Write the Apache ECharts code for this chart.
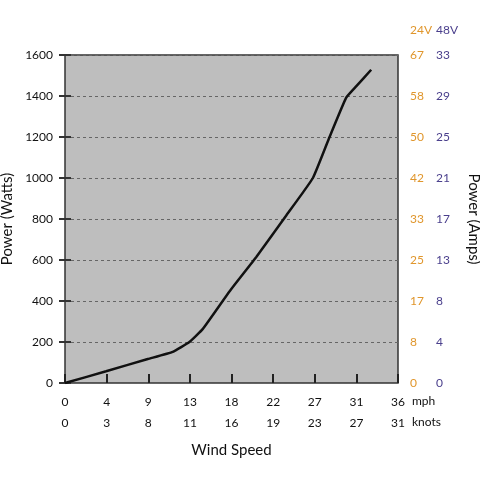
<!DOCTYPE html><html><head><meta charset="utf-8"><script src="https://cdn.jsdelivr.net/npm/echarts@6/dist/echarts.min.js"></script>
<style>html,body{margin:0;background:#fff}#c{width:480px;height:480px}</style></head><body><div id="c"></div><script>
const mph=[0,4.44,8.95,11.65,13.45,14.9,17.8,20.7,23.9,26.8,28.6,30.4,31.5,33.1];
const watts=[0,57,117,152,200,264,448,616,816,1000,1200,1392,1448,1528];
const mphLabels=['0','4','9','13','18','22','27','31','36'];
const knotLabels=['0','3','8','11','16','19','23','27','31'];
const amps24=['0','8','17','25','33','42','50','58','67'];
const amps48=['0','4','8','13','17','21','25','29','33'];
const F='Lato';
const ch=echarts.init(document.getElementById('c'));
const lab=(arr,step)=>v=>{const i=Math.round(v/step);return arr[i]!==undefined?arr[i]:'';};
ch.setOption({
 textStyle:{fontFamily:F},
 grid:{left:65,right:82,top:55,bottom:97,outerBoundsMode:'none',containLabel:false,show:true,backgroundColor:'#bebebe',borderColor:'#333',borderWidth:1.5},
 xAxis:[
  {type:'value',min:0,max:36,interval:4.5,position:'bottom',axisLine:{show:false},
   axisTick:{inside:true,length:9,lineStyle:{color:'#222',width:2}},splitLine:{show:false},
   axisLabel:{formatter:lab(mphLabels,4.5),color:'#111',fontSize:12,margin:13,fontFamily:F},
   name:'Wind Speed',nameLocation:'middle',nameGap:60,nameTextStyle:{fontSize:15,color:'#111',fontFamily:F}},
  {type:'value',min:0,max:36,interval:4.5,position:'bottom',offset:21,axisLine:{show:false},axisTick:{show:false},splitLine:{show:false},
   axisLabel:{formatter:lab(knotLabels,4.5),color:'#111',fontSize:12,margin:13,fontFamily:F}}
 ],
 yAxis:[
  {type:'value',min:0,max:1600,interval:200,axisLine:{show:false},
   axisTick:{inside:true,length:6,lineStyle:{color:'#333',width:2}},
   splitLine:{lineStyle:{color:'#666',type:[3,3],width:1}},
   axisLabel:{formatter:v=>String(v),color:'#111',fontSize:12,margin:12,fontFamily:F},
   name:'Power (Watts)',nameLocation:'middle',nameGap:46,nameTextStyle:{fontSize:15,color:'#111',fontFamily:F}},
  {type:'value',min:0,max:1600,interval:200,position:'right',axisLine:{show:false},
   axisTick:{inside:true,length:6,lineStyle:{color:'#333',width:2}},splitLine:{show:false},
   axisLabel:{formatter:lab(amps24,200),color:'#e0962c',fontSize:12,margin:12,fontFamily:F}},
  {type:'value',min:0,max:1600,interval:200,position:'right',offset:26,axisLine:{show:false},axisTick:{show:false},splitLine:{show:false},
   axisLabel:{formatter:lab(amps48,200),color:'#4a3f8c',fontSize:12,margin:12,fontFamily:F}},
  {type:'value',min:0,max:1600,position:'right',offset:60,axisLine:{show:false},axisTick:{show:false},axisLabel:{show:false},splitLine:{show:false},
   name:'Power (Amps)',nameLocation:'middle',nameGap:8,nameRotate:-90,nameTextStyle:{fontSize:15,color:'#111',fontFamily:F}}
 ],
 graphic:[
  {type:'text',left:410,top:24,style:{text:'24V',fill:'#e0962c',font:'12px Lato'}},
  {type:'text',left:436,top:24,style:{text:'48V',fill:'#4a3f8c',font:'12px Lato'}},
  {type:'text',left:412,top:395,style:{text:'mph',fill:'#111',font:'12px Lato'}},
  {type:'text',left:412,top:416,style:{text:'knots',fill:'#111',font:'12px Lato'}}
 ],
 series:[{type:'line',data:mph.map((m,i)=>[m,watts[i]]),smooth:0.12,showSymbol:false,lineStyle:{color:'#111',width:2.5},clip:false}]
});
</script></body></html>
